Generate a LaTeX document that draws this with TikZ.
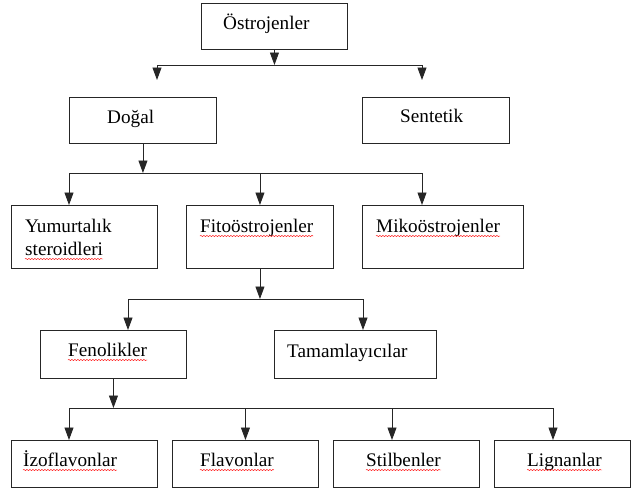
\documentclass[tikz,border=0pt]{standalone}
\usepackage{fontspec}
\setmainfont{Liberation Serif}
\usetikzlibrary{arrows.meta,decorations.pathmorphing}
\begin{document}
\begin{tikzpicture}[x=1pt,y=-1pt]
	
		\tikzset{
		  kutu/.style={
			draw=black!85,
			line width=0.9pt,
			anchor=north west,
			inner sep=0pt,
		  },
		  yazi/.style={anchor=base west, inner sep=0pt, font=\fontsize{19.2}{23}\selectfont},
		  cizgi/.style={draw=black!85, line width=0.9pt},
		  ok/.style={cizgi, -{Triangle[width=9pt,length=12.5pt]}},
		  imla/.style={draw=red, line width=0.45pt, decorate, decoration={snake, segment length=3pt, amplitude=0.6pt}},
		}
		\useasboundingbox (0,0) rectangle (631,491);
		\node[kutu, minimum width=146pt, minimum height=46pt] (ostro) at (201,3) {};
		\node[kutu, minimum width=147pt, minimum height=46pt] (dogal) at (69,97) {};
		\node[kutu, minimum width=147pt, minimum height=46pt] (sentetik) at (362,97) {};
		\node[kutu, minimum width=146pt, minimum height=63pt] (yumurta) at (11,205) {};
		\node[kutu, minimum width=147pt, minimum height=63pt] (fito) at (186,205) {};
		\node[kutu, minimum width=161pt, minimum height=63pt] (miko) at (362,205) {};
		\node[kutu, minimum width=146pt, minimum height=48pt] (fenol) at (40,330) {};
		\node[kutu, minimum width=162pt, minimum height=48pt] (tamam) at (274,330) {};
		\node[kutu, minimum width=146pt, minimum height=47pt] (izo) at (11,440) {};
		\node[kutu, minimum width=146pt, minimum height=47pt] (flavon) at (172,440) {};
		\node[kutu, minimum width=146pt, minimum height=47pt] (stilben) at (333,440) {};
		\node[kutu, minimum width=136pt, minimum height=47pt] (lignan) at (494,440) {};
		\node[yazi] (ostro-t) at (223,29) {Östrojenler};
		\node[yazi] (dogal-t) at (107,123) {Doğal};
		\node[yazi] (sentetik-t) at (400,122) {Sentetik};
		\node[yazi] (yumurta-t1) at (25,232) {Yumurtalık};
		\node[yazi] (yumurta-t2) at (25,255) {steroidleri};
		\node[yazi] (fito-t) at (200,232) {Fitoöstrojenler};
		\node[yazi] (miko-t) at (376,232) {Mikoöstrojenler};
		\node[yazi] (fenol-t) at (68,356) {Fenolikler};
		\node[yazi] (tamam-t) at (287,357) {Tamamlayıcılar};
		\node[yazi] (izo-t) at (23,466) {İzoflavonlar};
		\node[yazi] (flavon-t) at (200,466) {Flavonlar};
		\node[yazi] (stilben-t) at (366,466) {Stilbenler};
		\node[yazi] (lignan-t) at (527,466) {Lignanlar};
		\draw[imla] ([yshift=-4pt]yumurta-t2.base west) -- ([yshift=-4pt]yumurta-t2.base east);
		\draw[imla] ([yshift=-4pt]fito-t.base west) -- ([yshift=-4pt]fito-t.base east);
		\draw[imla] ([yshift=-4pt]miko-t.base west) -- ([yshift=-4pt]miko-t.base east);
		\draw[imla] ([yshift=-4pt]fenol-t.base west) -- ([yshift=-4pt]fenol-t.base east);
		\draw[imla] ([yshift=-4pt]izo-t.base west) -- ([yshift=-4pt]izo-t.base east);
		\draw[imla] ([yshift=-4pt]flavon-t.base west) -- ([yshift=-4pt]flavon-t.base east);
		\draw[imla] ([yshift=-4pt]stilben-t.base west) -- ([yshift=-4pt]stilben-t.base east);
		\draw[imla] ([yshift=-4pt]lignan-t.base west) -- ([yshift=-4pt]lignan-t.base east);
		\coordinate (d1) at (ostro.south |- 0,65);
		\coordinate (d1a) at (157,65);
		\coordinate (d1b) at (422,65);
		\coordinate (dogal-u) at (157,80);
		\coordinate (sentetik-u) at (422,80);
		\draw[ok] (ostro.south) -- (d1);
		\draw[cizgi] (d1a) -- (d1b);
		\draw[ok] (d1a) -- (dogal-u);
		\draw[ok] (d1b) -- (sentetik-u);
		\coordinate (d2) at (dogal.south |- 0,173);
		\coordinate (d2a) at (69,173);
		\coordinate (d2b) at (fito.north |- 0,173);
		\coordinate (d2c) at (422,173);
		\draw[ok] (dogal.south) -- (d2);
		\draw[cizgi] (d2a) -- (d2c);
		\draw[ok] (d2a) -- (d2a |- yumurta.north);
		\draw[ok] (d2b) -- (fito.north);
		\draw[ok] (d2c) -- (d2c |- miko.north);
		\coordinate (d3) at (fito.south |- 0,299);
		\coordinate (d3a) at (128,299);
		\coordinate (d3b) at (363,299);
		\draw[ok] (fito.south) -- (d3);
		\draw[cizgi] (d3a) -- (d3b);
		\draw[ok] (d3a) -- (d3a |- fenol.north);
		\draw[ok] (d3b) -- (d3b |- tamam.north);
		\coordinate (d4) at (fenol.south |- 0,408);
		\coordinate (d4a) at (69,408);
		\coordinate (d4b) at (flavon.north |- 0,408);
		\coordinate (d4c) at (392,408);
		\coordinate (d4d) at (553,408);
		\draw[ok] (fenol.south) -- (d4);
		\draw[cizgi] (d4a) -- (d4d);
		\draw[ok] (d4a) -- (d4a |- izo.north);
		\draw[ok] (d4b) -- (flavon.north);
		\draw[ok] (d4c) -- (d4c |- stilben.north);
		\draw[ok] (d4d) -- (d4d |- lignan.north);
	
	\end{tikzpicture}
\end{document}
